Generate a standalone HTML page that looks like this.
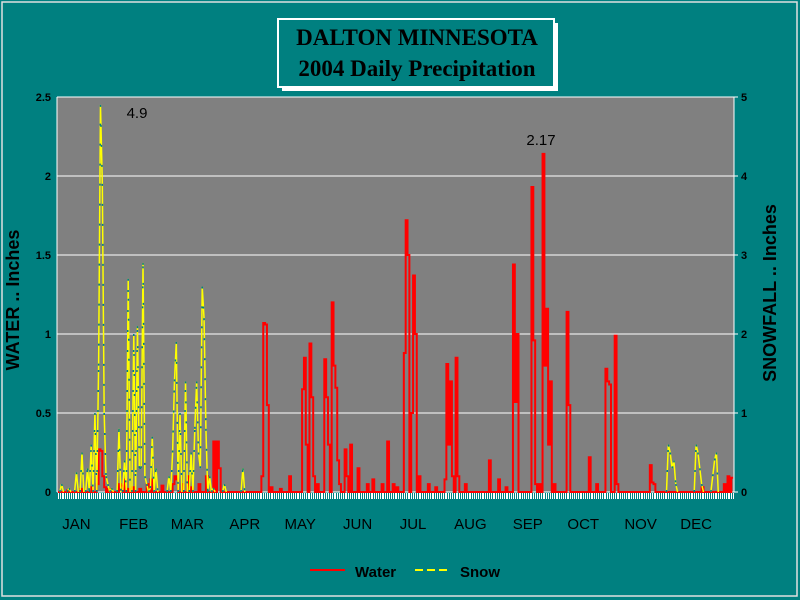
<!DOCTYPE html>
<html><head><meta charset="utf-8"><style>
body{margin:0;background:#008080;}
svg{display:block;font-family:"Liberation Sans",Arial,sans-serif;}
</style></head><body>
<svg id="chart" width="800" height="600" viewBox="0 0 800 600">
<rect x="0" y="0" width="800" height="600" fill="#008080"/>
<rect x="2" y="2" width="795" height="594" fill="none" stroke="#e0e0e0" stroke-width="1.5"/>
<g>
<rect x="282" y="23" width="276" height="68" fill="#ffffff"/>
<rect x="278" y="19" width="276" height="68" fill="#008080" stroke="#ffffff" stroke-width="2"/>
<text x="417" y="45" text-anchor="middle" font-family="Liberation Serif,serif" font-weight="bold" font-size="23" fill="#000">DALTON MINNESOTA</text>
<text x="417" y="76" text-anchor="middle" font-family="Liberation Serif,serif" font-weight="bold" font-size="23" fill="#000">2004 Daily Precipitation</text>
</g>
<rect x="57" y="97" width="677" height="395" fill="#808080"/>
<g id="grid"></g><g id="ticks"></g><g id="series"></g><g id="labels"></g>
<text x="137" y="118" text-anchor="middle" font-size="15" fill="#000">4.9</text>
<text x="541" y="145" text-anchor="middle" font-size="15" fill="#000">2.17</text>
<text transform="translate(19,300) rotate(-90)" text-anchor="middle" font-size="18" font-weight="bold" fill="#000">WATER .. Inches</text>
<text transform="translate(776,293) rotate(-90)" text-anchor="middle" font-size="18" font-weight="bold" fill="#000">SNOWFALL .. Inches</text>
<g>
<g><line x1="310" y1="570" x2="345" y2="570" stroke="#ff0000" stroke-width="2"/><text x="355" y="577" font-size="15" font-weight="bold" fill="#000">Water</text></g>
<g><line x1="415" y1="570" x2="450" y2="570" stroke="#ffff00" stroke-width="2" stroke-dasharray="8,4"/><text x="460" y="577" font-size="15" font-weight="bold" fill="#000">Snow</text></g>
</g>
</svg>
<script>
const months=["JAN","FEB","MAR","APR","MAY","JUN","JUL","AUG","SEP","OCT","NOV","DEC"];
const monthStart=[0,31,60,91,121,152,182,213,244,274,305,335];
const leftTicks=[0,0.5,1,1.5,2,2.5];
const leftTickLabels=["0","0.5","1","1.5","2","2.5"];
const rightTickLabels=["0","1","2","3","4","5"];
const waterDays=[5,12,18,21,22,23,24,25,27,33,34,36,38,40,44,48,50,56,62,63,64,67,70,72,76,80,84,86,87,110,111,112,113,115,120,125,132,133,134,136,137,138,140,144,145,146,148,149,150,151,152,155,156,158,162,167,170,175,178,181,183,187,188,189,191,192,193,195,200,204,209,210,211,212,213,215,216,220,233,238,242,246,247,248,256,257,258,260,262,263,264,265,266,268,275,276,287,291,296,297,298,301,302,320,321,322,348,360,362,364,365];
const waterVals=[0.01,0.02,0.03,0.05,0.27,0.26,0.1,0.03,0.02,0.05,0.04,0.08,0.02,0.03,0.02,0.05,0.08,0.04,0.05,0.1,0.08,0.05,0.1,0.03,0.05,0.1,0.32,0.32,0.15,0.1,1.07,1.06,0.55,0.03,0.02,0.1,0.65,0.85,0.3,0.94,0.6,0.1,0.05,0.84,0.6,0.3,1.2,0.8,0.66,0.2,0.05,0.27,0.1,0.3,0.15,0.05,0.08,0.05,0.32,0.05,0.03,0.88,1.72,1.5,0.5,1.37,1.0,0.1,0.05,0.03,0.08,0.81,0.3,0.7,0.1,0.85,0.1,0.05,0.2,0.08,0.03,1.44,0.57,1.0,1.93,0.96,0.05,0.05,2.14,0.8,1.16,0.3,0.7,0.05,1.14,0.55,0.22,0.05,0.78,0.7,0.68,0.99,0.05,0.17,0.06,0.05,0.03,0.05,0.1,0.09];
const snowDays=[2,6,10,13,16,18,20,22,23,24,25,26,27,29,33,36,38,41,43,44,45,46,47,48,50,51,53,60,62,63,64,66,69,72,74,75,76,77,78,79,80,82,84,85,90,100,330,331,332,333,334,345,346,347,348,349,354,355,356];
const snowVals=[0.1,0.05,0.25,0.5,0.3,0.6,1.0,1.6,4.9,3.9,1.0,0.2,0.1,0.05,0.8,0.4,2.7,2.0,2.1,0.3,0.3,2.9,0.2,0.1,0.05,0.7,0.3,0.2,0.5,1.4,1.9,1.0,1.4,0.5,0.8,1.4,0.5,0.3,2.6,2.2,0.8,0.2,0.05,0.0,0.1,0.3,0.6,0.5,0.3,0.4,0.1,0.6,0.5,0.3,0.1,0.0,0.2,0.4,0.5];
const NS="http://www.w3.org/2000/svg";
const X0=57,X1=734,Y0=492,Y1=97,NDAYS=366;
const xs=d=>X0+(d+0.5)*(X1-X0)/NDAYS;
const yL=v=>Y0-(v/2.5)*(Y0-Y1);
const yR=v=>Y0-(v/5)*(Y0-Y1);
function mk(tag,attrs,parent){const e=document.createElementNS(NS,tag);for(const k in attrs)e.setAttribute(k,attrs[k]);parent.appendChild(e);return e;}
const grid=document.getElementById('grid'),ticks=document.getElementById('ticks'),series=document.getElementById('series'),labels=document.getElementById('labels');
leftTicks.forEach((v,i)=>{
 const y=yL(v);
 const g=mk('line',{x1:X0,x2:X1,y1:y,y2:y,stroke:'#fff','stroke-width':1},grid);
 
 
 const t=mk('text',{x:X0-6,y:y+4,'text-anchor':'end','font-size':11,'font-weight':'bold',fill:'#000'},labels);t.textContent=leftTickLabels[i];
 
 
 const r=mk('text',{x:X1+7,y:y+4,'font-size':11,'font-weight':'bold',fill:'#000'},labels);r.textContent=rightTickLabels[i];
 
 
 mk('line',{x1:X1,x2:X1+4,y1:y,y2:y,stroke:'#fff'},ticks);
});
mk('line',{x1:X1,x2:X1,y1:Y1,y2:Y0,stroke:'#fff'},ticks);
mk('line',{x1:X0,x2:X0,y1:Y1,y2:Y0,stroke:'#fff'},ticks);
let dpath="";
for(let d=0;d<NDAYS;d++){const x=Math.round(xs(d))+0.5;dpath+=`M${x},${Y0+1}V${Y0+7}`;}
const tk=mk('path',{d:dpath,stroke:'#fff','stroke-width':1},ticks);


months.forEach((m,i)=>{
 const t=mk('text',{x:xs(monthStart[i]+10),y:529,'text-anchor':'middle','font-size':15,fill:'#000'},labels);t.textContent=m;
 
 
});
function full(days,vals){const a=new Array(NDAYS).fill(0);days.forEach((d,i)=>a[d]=vals[i]);return a;}
const w=full(waterDays,waterVals),s=full(snowDays,snowVals);
function stepPath(arr,yf){let p=`M${xs(0)},${yf(arr[0])}`;for(let d=1;d<NDAYS;d++){p+=`L${xs(d)},${yf(arr[d-1])}L${xs(d)},${yf(arr[d])}`;}return p;}
function linePath(arr,yf){let p="";for(let d=1;d<NDAYS;d++){if(arr[d-1]>0||arr[d]>0){p+=`M${xs(d-1)},${yf(arr[d-1])}L${xs(d)},${yf(arr[d])}`;}}return p||"M0,0";}
const wp=mk('path',{d:stepPath(w,yL),fill:'none',stroke:'#ff0000','stroke-width':2},series);


const sp=mk('path',{d:linePath(s,yR),fill:'none',stroke:'#ffff00','stroke-width':1.5},series);


const sp2=mk('path',{d:linePath(s,yR),fill:'none',stroke:'#008080','stroke-width':1.5,'stroke-dasharray':'2,18'},series);


</script>
</body></html>
